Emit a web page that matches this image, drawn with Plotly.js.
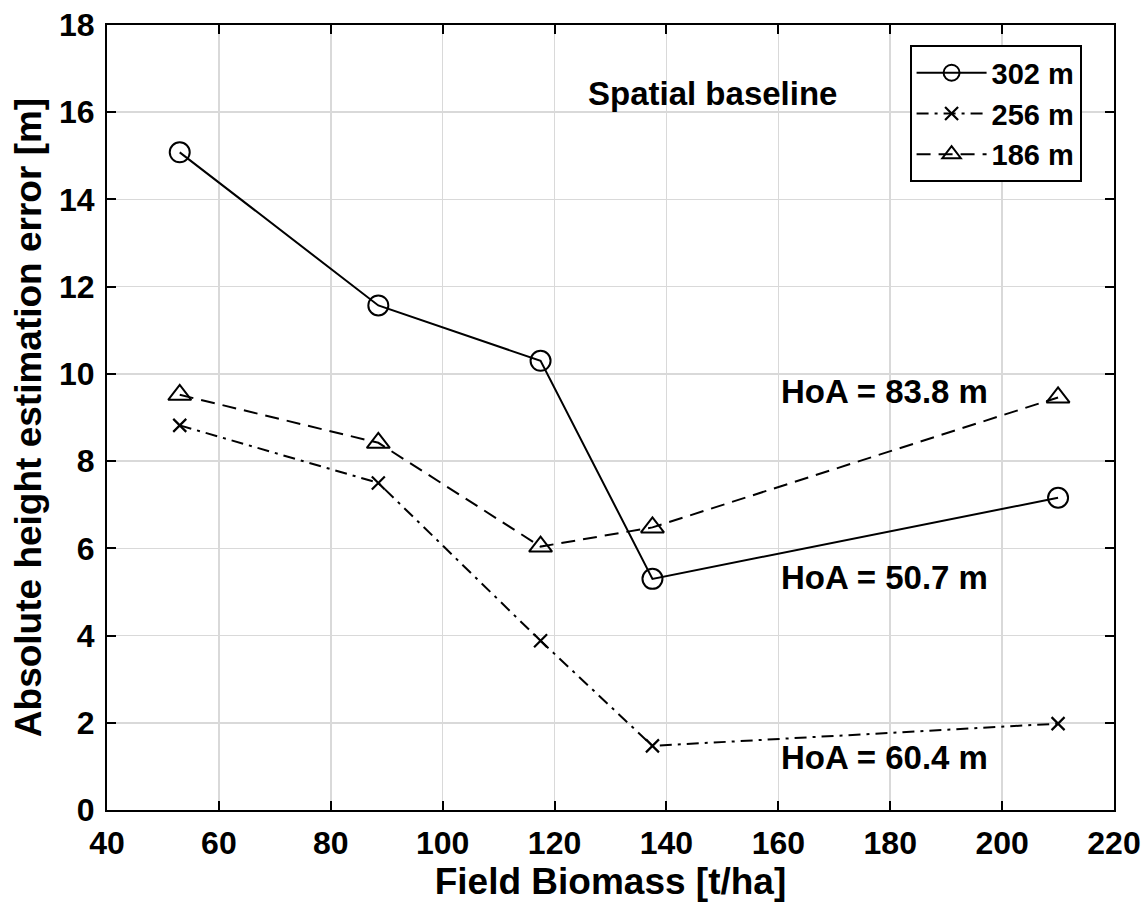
<!DOCTYPE html>
<html><head><meta charset="utf-8">
<script src="https://cdn.plot.ly/plotly-3.0.1.min.js"></script>
<style>body{margin:0;background:#fff}#c{width:1148px;height:902px}</style>
</head><body><div id="c"></div>
<script>
const biomass = [53, 88.5, 117.5, 137.5, 210];
const err302 = [15.08, 11.57, 10.3, 5.3, 7.16];
const err256 = [8.82, 7.5, 3.88, 1.47, 1.98];
const err186 = [9.52, 8.42, 6.04, 6.48, 9.46];
const seriesNames = ['302 m', '256 m', '186 m'];
const xTicks = [40, 60, 80, 100, 120, 140, 160, 180, 200, 220];
const yTicks = [0, 2, 4, 6, 8, 10, 12, 14, 16, 18];
const notes = [
  {x: 148.2, y: 16.42, text: 'Spatial baseline'},
  {x: 179, y: 9.6, text: 'HoA = 83.8 m'},
  {x: 179, y: 5.32, text: 'HoA = 50.7 m'},
  {x: 179, y: 1.2, text: 'HoA = 60.4 m'}
];
const F = 'Liberation Sans, Arial, sans-serif';
const traces = [
  {x: biomass, y: err302, name: seriesNames[0], mode: 'lines+markers',
   line: {color: '#000', width: 2, dash: 'solid'},
   marker: {symbol: 'circle-open', size: 20, color: '#000', line: {width: 2}}},
  {x: biomass, y: err256, name: seriesNames[1], mode: 'lines+markers',
   line: {color: '#000', width: 2, dash: '12px,6px,3px,6px'},
   marker: {symbol: 'x-thin-open', size: 13, color: '#000', line: {width: 2.2}}},
  {x: biomass, y: err186, name: seriesNames[2], mode: 'lines+markers',
   line: {color: '#000', width: 2, dash: '14px,8px'},
   marker: {symbol: 'triangle-up-open', size: 20, color: '#000', line: {width: 2}}}
];
const ax = {
  showline: true, linecolor: '#000', linewidth: 2, mirror: 'ticks',
  ticks: 'inside', ticklen: 9, tickwidth: 2, tickcolor: '#000',
  showgrid: true, gridcolor: '#d9d9d9', gridwidth: 1.5, zeroline: false,
  tickfont: {family: F, size: 32, color: '#000', weight: 'bold'}
};
const layout = {
  width: 1148, height: 902,
  margin: {l: 107, r: 34, t: 25, b: 92},
  paper_bgcolor: '#fff', plot_bgcolor: '#fff',
  font: {family: F, color: '#000'},
  xaxis: Object.assign({}, ax, {range: [40, 220], tickvals: xTicks, ticktext: xTicks.map(String),
    ticklabelstandoff: 4,
    title: {text: '<b>Field Biomass [t/ha]</b>', font: {family: F, size: 37, color: '#000'}, standoff: 0}}),
  yaxis: Object.assign({}, ax, {range: [0, 18], tickvals: yTicks, ticktext: yTicks.map(String),
    ticklabelstandoff: 4,
    title: {text: '<b>Absolute height estimation error [m]</b>', font: {family: F, size: 37, color: '#000'}, standoff: 6}}),
  legend: {x: 0.797, y: 0.974, xanchor: 'left', yanchor: 'top',
    bordercolor: '#000', borderwidth: 2, bgcolor: '#fff',
    font: {family: F, size: 29, color: '#000', weight: 'bold'}, itemwidth: 70, tracegroupgap: 0},
  annotations: notes.map(n => ({x: n.x, y: n.y, xref: 'x', yref: 'y', text: '<b>' + n.text + '</b>',
    showarrow: false, font: {family: F, size: 33, color: '#000'}}))
};
Plotly.newPlot('c', traces, layout, {displayModeBar: false, staticPlot: true});
</script></body></html>
